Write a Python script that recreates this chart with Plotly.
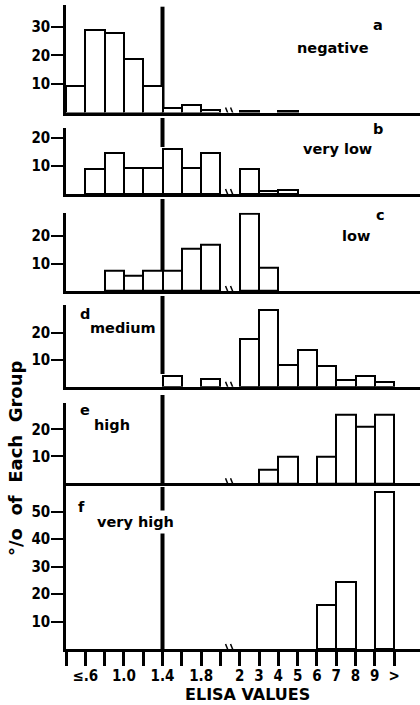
import plotly.graph_objects as go

# ---------------- data ----------------
tick_labels = ["", "≤.6", "", "1.0", "", "1.4", "", "1.8", "", "2", "3", "4", "5", "6", "7", "8", "9", ">"]
cutoff_label = "1.4"
group_letters = ["a", "b", "c", "d", "e", "f"]
group_names = ["negative", "very low", "low", "medium", "high", "very high"]

negative = [9.3, 29, 27.8, 18.7, 9.3, 1.5, 2.5, 1.0, 0, 0.5, 0, 0.6, 0, 0, 0, 0, 0]
very_low = [0, 9, 14.5, 9.2, 9.2, 16, 9.2, 14.5, 0, 9, 1.2, 1.4, 0, 0, 0, 0, 0]
low = [0, 0, 7.3, 5.6, 7.3, 7.3, 15.3, 16.8, 0, 28.2, 8.4, 0, 0, 0, 0, 0, 0]
medium = [0, 0, 0, 0, 0, 4.1, 0, 2.9, 0, 17.7, 28.4, 8, 13.6, 7.7, 2.5, 4, 1.6]
high = [0, 0, 0, 0, 0, 0, 0, 0, 0, 0, 4.9, 9.9, 0, 10, 25.5, 21, 25.5]
very_high = [0, 0, 0, 0, 0, 0, 0, 0, 0, 0, 0, 0, 0, 16, 24.3, 0, 57.2]

y_ticks = [[10, 20, 30], [10, 20], [10, 20], [10, 20], [10, 20], [10, 20, 30, 40, 50]]
series = [negative, very_low, low, medium, high, very_high]

x_title = "ELISA VALUES"
y_title = "°/o  of  Each  Group"

# ---------------- layout geometry (pixels) ----------------
W, H = 420, 705
X_LEFT = 66
K_MAX = (W - X_LEFT) / 19.3
panel_px = [(5, 112.5), (128, 194), (212.7, 291), (305, 386.7), (402.7, 483.3), (486, 649)]
panel_ymax = [37.7, 23.6, 28.5, 30.3, 29.9, 59.3]
cutline_px = [(6.7, 112.5), (118, 147), (199, 291), (296, 374), (395, 483.3), (487, 649)]
letter_pos = [(378, 25), (378, 129), (380, 215), (85, 314), (85, 410), (81, 507)]
name_pos = [(333, 48), (337, 149), (356, 236), (123, 328), (112, 425), (135, 522)]

def py(p):
    return 1 - p / H

def px(p):
    return p / W

TICK_FONT = dict(family="Liberation Sans Narrow, DejaVu Sans Condensed, Arial Narrow, sans-serif",
                 size=15, color="black", weight="bold")
TEXT_FONT = dict(family="DejaVu Sans, sans-serif", size=14.5, color="black", weight="bold")

cut_k = tick_labels.index(cutoff_label)
break_k = 8.5

fig = go.Figure()
shapes = []
annotations = []
layout = {}

for i, vals in enumerate(series):
    n = i + 1
    xa = "x" if n == 1 else f"x{n}"
    ya = "y" if n == 1 else f"y{n}"
    xs = [k + 0.5 for k in range(len(vals))]
    ys = [v if v > 0 else None for v in vals]
    fig.add_trace(go.Bar(x=xs, y=ys, width=1, xaxis=xa, yaxis=ya,
                         marker=dict(color="white", line=dict(color="black", width=2)),
                         showlegend=False, hoverinfo="skip", cliponaxis=False))
    top, base = panel_px[i]
    last = (n == len(series))
    xaxis = dict(domain=[px(X_LEFT), 1], range=[0, K_MAX], anchor=ya, automargin=False,
                 showline=True, linecolor="black", linewidth=2.5,
                 showgrid=False, zeroline=False, fixedrange=True, layer="above traces")
    if last:
        xaxis.update(tickmode="array", tickvals=list(range(len(tick_labels))), ticktext=tick_labels,
                     ticks="outside", ticklen=14, tickwidth=2.5, tickcolor="black",
                     tickfont=TICK_FONT, ticklabelstandoff=-3)
    else:
        xaxis.update(showticklabels=False, ticks="")
    yaxis = dict(domain=[py(base), py(top)], range=[0, panel_ymax[i]], anchor=xa, automargin=False,
                 showline=True, linecolor="black", linewidth=2.5,
                 showgrid=False, zeroline=False, fixedrange=True,
                 tickmode="array", tickvals=y_ticks[i], ticks="outside", ticklen=12,
                 tickwidth=2, tickcolor="black", tickfont=TICK_FONT, ticklabelstandoff=-2)
    layout["xaxis" if n == 1 else f"xaxis{n}"] = xaxis
    layout["yaxis" if n == 1 else f"yaxis{n}"] = yaxis

    # cutoff line at 1.4
    c0, c1 = cutline_px[i]
    shapes.append(dict(type="line", xref=xa, yref="paper", x0=cut_k, x1=cut_k,
                       y0=py(c1), y1=py(c0), line=dict(color="black", width=4), layer="below"))
    # axis break marks
    for dx in (-2.5, 2.5):
        shapes.append(dict(type="line", xref=xa, yref=ya, xsizemode="pixel", ysizemode="pixel",
                           xanchor=break_k, yanchor=0, x0=dx - 2, x1=dx + 2, y0=5, y1=-5,
                           line=dict(color="black", width=1.5)))
    lx, ly = letter_pos[i]
    annotations.append(dict(text=group_letters[i], xref="paper", yref="paper",
                            x=px(lx), y=py(ly), xanchor="center", yanchor="middle",
                            showarrow=False, font=TEXT_FONT))
    nx, ny = name_pos[i]
    annotations.append(dict(text=group_names[i], xref="paper", yref="paper",
                            x=px(nx), y=py(ny), xanchor="center", yanchor="middle",
                            showarrow=False, font=TEXT_FONT,
                            bgcolor="white" if last else None, borderpad=3))

annotations.append(dict(text=y_title, xref="paper", yref="paper",
                        x=px(15), y=py(459), xanchor="center", yanchor="middle",
                        textangle=-90, showarrow=False,
                        font=dict(family="DejaVu Sans, sans-serif", size=18, color="black",
                                  weight="bold")))
annotations.append(dict(text=x_title, xref="paper", yref="paper",
                        x=px(247), y=py(694), xanchor="center", yanchor="middle",
                        showarrow=False,
                        font=dict(family="DejaVu Sans, sans-serif", size=16, color="black",
                                  weight="bold")))

fig.update_layout(width=W, height=H, margin=dict(l=0, r=0, t=0, b=0),
                  paper_bgcolor="white", plot_bgcolor="rgba(0,0,0,0)",
                  shapes=shapes, annotations=annotations, bargap=0, **layout)

fig.write_html("out.html", include_plotlyjs=True)
